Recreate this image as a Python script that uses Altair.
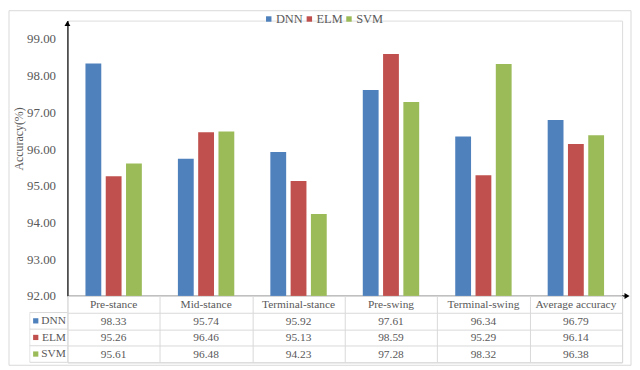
import altair as alt
import pandas as pd

categories = ["Pre-stance", "Mid-stance", "Terminal-stance", "Pre-swing", "Terminal-swing", "Average accuracy"]
series = ["DNN", "ELM", "SVM"]
dnn = [98.33, 95.74, 95.92, 97.61, 96.34, 96.79]
elm = [95.26, 96.46, 95.13, 98.59, 95.29, 96.14]
svm = [95.61, 96.48, 94.23, 97.28, 98.32, 96.38]
colors = ["#4F81BD", "#C0504D", "#9BBB59"]
y_ticks = [92, 93, 94, 95, 96, 97, 98, 99]
y_domain = [92, 99.5]

FONT = "Liberation Serif"
GRAY = "#595959"
GRID = "#D9D9D9"
W, H = 560, 278
RH = 16.75

recs = []
for s, vals in zip(series, [dnn, elm, svm]):
    for c, v in zip(categories, vals):
        recs.append({"category": c, "series": s, "row": s, "value": v, "label": f"{v:.2f}"})
df = pd.DataFrame(recs)

tbl_rows = ["hdr"] + series
header = pd.DataFrame({"category": categories, "row": ["hdr"] * len(categories), "label": categories})
tdf = pd.concat([header, df[["category", "row", "label"]]], ignore_index=True)

dummy = pd.DataFrame({"a": [0]})

# ---------------- top: bar chart ----------------
x_bar = alt.X("category:N", sort=categories,
              scale=alt.Scale(domain=categories, paddingInner=0.39, paddingOuter=0.195),
              axis=alt.Axis(labels=False, ticks=False, title=None, grid=False,
                            domainColor="black", domainWidth=1.2))
bars = alt.Chart(df).mark_bar().encode(
    x=x_bar,
    xOffset=alt.XOffset("series:N", sort=series,
                        scale=alt.Scale(domain=series, paddingInner=0.22, paddingOuter=0)),
    y=alt.Y("value:Q", scale=alt.Scale(domain=y_domain, zero=False, nice=False),
            axis=alt.Axis(values=y_ticks, format=".2f", title="Accuracy(%)", grid=False,
                          ticks=False, domainColor="black", domainWidth=1.2,
                          labelPadding=12, labelFont=FONT, labelFontSize=13, labelColor=GRAY,
                          titleFont=FONT, titleFontSize=12, titleColor=GRAY,
                          titleFontWeight="normal", titlePadding=1, titleY=119)),
    y2=alt.datum(92),
    color=alt.Color("series:N", sort=series, scale=alt.Scale(domain=series, range=colors),
                    legend=alt.Legend(orient="none", legendX=197, legendY=-8,
                                      direction="horizontal", title=None,
                                      symbolType="square", symbolSize=30,
                                      symbolStrokeWidth=0, labelFont=FONT,
                                      labelFontSize=12.5, labelColor=GRAY,
                                      labelOffset=1, columnPadding=-3)),
)

frame = alt.Chart(dummy).mark_rect(fill="transparent", stroke=GRID, strokeWidth=1, clip=False).encode(
    x=alt.value(-59), x2=alt.value(569), y=alt.value(-10), y2=alt.value(348)
)
y_arrow = alt.Chart(dummy).mark_point(shape="triangle-up", filled=True, color="black",
                                      size=35, opacity=1, clip=False).encode(
    x=alt.value(0), y=alt.value(3)
)
x_ext = alt.Chart(dummy).mark_rule(color="black", strokeWidth=1.2, clip=False).encode(
    x=alt.value(W), x2=alt.value(W + 5), y=alt.value(H)
)
x_arrow = alt.Chart(dummy).mark_point(shape="triangle-right", filled=True, color="black",
                                      size=35, opacity=1, clip=False).encode(
    x=alt.value(W + 5), y=alt.value(H)
)

top = alt.layer(frame, bars, y_arrow, x_ext, x_arrow).properties(width=W, height=H)

# ---------------- bottom: data table ----------------
x_tbl = alt.X("category:N", sort=categories,
              scale=alt.Scale(domain=categories, paddingInner=0, paddingOuter=0),
              axis=alt.Axis(grid=True, tickBand="extent", labels=False, ticks=False,
                            domain=False, title=None, gridColor=GRID))
y_tbl = alt.Y("row:N", sort=tbl_rows,
              scale=alt.Scale(domain=tbl_rows, paddingInner=0, paddingOuter=0),
              axis=alt.Axis(grid=True, tickBand="extent", ticks=False, domain=False,
                            title=None, gridColor=GRID,
                            labelExpr="datum.value == 'hdr' ? '' : datum.value",
                            labelFont=FONT, labelFontSize=11.5, labelColor=GRAY, labelPadding=2))

table_text = alt.Chart(tdf).mark_text(font=FONT, fontSize=11.5, color=GRAY, baseline="middle", dy=1).encode(
    x=x_tbl, y=y_tbl, text="label:N"
)

legend_df = pd.DataFrame({"row": series})
squares = alt.Chart(legend_df).mark_point(shape="square", filled=True, size=28, opacity=1,
                                          clip=False).encode(
    x=alt.value(-32),
    y=alt.Y("row:N", sort=tbl_rows),
    color=alt.Color("row:N", scale=alt.Scale(domain=series, range=colors), legend=None),
)
row_lines = alt.Chart(legend_df).mark_rule(color=GRID, clip=False).encode(
    x=alt.value(-38), x2=alt.value(0),
    y=alt.Y("row:N", sort=tbl_rows, bandPosition=0),
)
bottom_line = alt.Chart(pd.DataFrame({"row": ["SVM"]})).mark_rule(color=GRID, clip=False).encode(
    x=alt.value(-38), x2=alt.value(0),
    y=alt.Y("row:N", sort=tbl_rows, bandPosition=1),
)
left_edge = alt.Chart(legend_df).mark_tick(orient="vertical", color=GRID, size=RH,
                                           thickness=1, clip=False).encode(
    x=alt.value(-38),
    y=alt.Y("row:N", sort=tbl_rows),
)

bottom = alt.layer(table_text, row_lines, bottom_line, left_edge, squares).properties(
    width=W, height=RH * 4
)

chart = alt.vconcat(top, bottom, spacing=0, bounds="flush").resolve_scale(
    color="independent", x="independent"
).resolve_legend(color="independent").properties(
    padding=0
).configure_view(stroke=None).configure(background="white")

chart.save("out.html", embed_options={"renderer": "svg", "actions": False})
